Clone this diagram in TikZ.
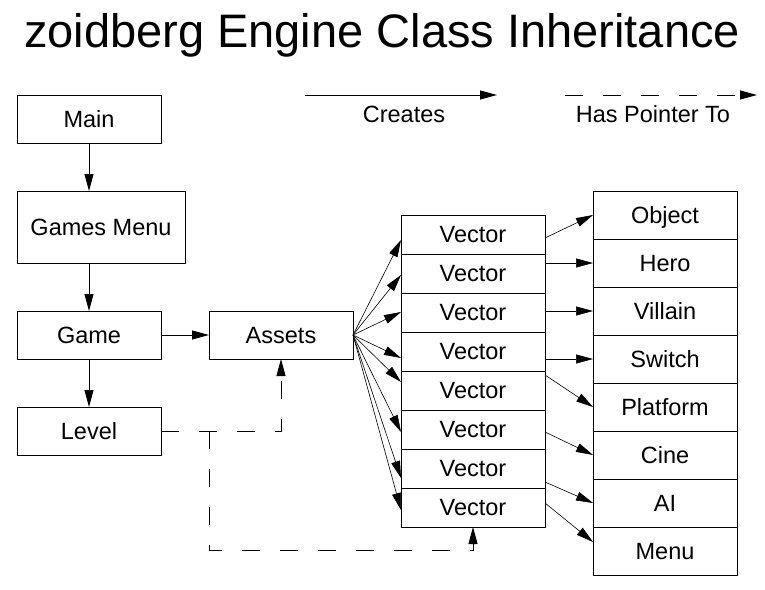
\documentclass[tikz,border=0pt]{standalone}
\usepackage{fontspec}
\setmainfont{Liberation Sans}
\usetikzlibrary{arrows.meta, positioning, calc}

\begin{document}
\begin{tikzpicture}[x=1pt, y=-1pt, node distance=48pt,
    lbl/.style={inner sep=0pt, text height=16.8pt, text depth=0pt, font=\fontsize{23.5}{28}\selectfont},
    box/.style={lbl, draw, rectangle, line width=1pt, outer sep=0pt, minimum width=144pt, minimum height=48pt},
    vecbox/.style={box, minimum height=39pt},
    creates/.style={line width=1pt, -{Triangle[length=17pt, width=9pt]}},
    pointer/.style={creates, dash pattern=on 18pt off 20pt}]
    \useasboundingbox (0,0) rectangle (765,589);
    \node (title) [anchor=base, inner sep=0pt, font=\fontsize{47}{56}\selectfont] at (382,47) {zoidberg Engine Class Inheritance};

    % legend
    \coordinate (cfrom) at (305,95);
    \coordinate (cto) at (497,95);
    \coordinate (pfrom) at (565,95);
    \coordinate (pto) at (757,95);
    \draw [creates] (cfrom) -- (cto);
    \draw [pointer] (pfrom) -- (pto);
    \node (ctext) [lbl] at (404,114) {Creates};
    \node (ptext) [lbl] at (653,114) {Has Pointer To};

    % left column
    \node (main) [box, anchor=north west] at (17,95) {Main};
    \node (games) [box, below=of main.south west, anchor=north west, minimum width=168pt, minimum height=72pt] {Games Menu};
    \node (game) [box, below=of games.south west, anchor=north west] {Game};
    \node (level) [box, below=of game] {Level};
    \node (assets) [box, right=of game] {Assets};

    % vectors
    \node (vec1) [vecbox, anchor=north west] at (401,215) {Vector};
    \foreach \i [remember=\i as \j (initially 1)] in {2,...,8}
        \node (vec\i) [vecbox, below=0pt of vec\j] {Vector};

    % classes
    \node (object) [box, anchor=north west] at (593,191) {Object};
    \foreach \name/\txt [remember=\name as \prev (initially object)] in {hero/Hero, villain/Villain, switch/Switch, platform/Platform, cine/Cine, ai/AI, menu/Menu}
        \node (\name) [box, below=0pt of \prev] {\txt};

    \draw [creates] (main.south) -- (main.south |- games.north);
    \draw [creates] (main.south |- games.south) -- (game.north);
    \draw [creates] (game) -- (level);
    \draw [creates] (game) -- (assets);

    \foreach \i/\tin/\fout/\cls/\tout in {1/-5.5/-3.5/object/0, 2/-1.5/10.5/hero/0, 3/0.5/1.5/villain/0, 4/-6.5/-7.5/switch/0, 5/8.5/15.5/platform/0, 6/-2.5/-2.5/cine/0, 7/-9.5/-13.5/ai/0, 8/-2.5/4.5/menu/9} {
        \draw [creates, line width=0.6pt] (assets.east) -- ([yshift=\tin pt]vec\i.west);
        \draw [creates, line width=0.6pt] ([yshift=\fout pt]vec\i.east) -- ([yshift=\tout pt]\cls.west);
    }

    \coordinate (split) at (assets.west |- level.east);
    \coordinate (corner) at (209,550);
    \draw [pointer] (level.east) -| (assets.south);
    \draw [pointer] (split) -- (corner) -| (vec8.south);
\end{tikzpicture}
\end{document}
